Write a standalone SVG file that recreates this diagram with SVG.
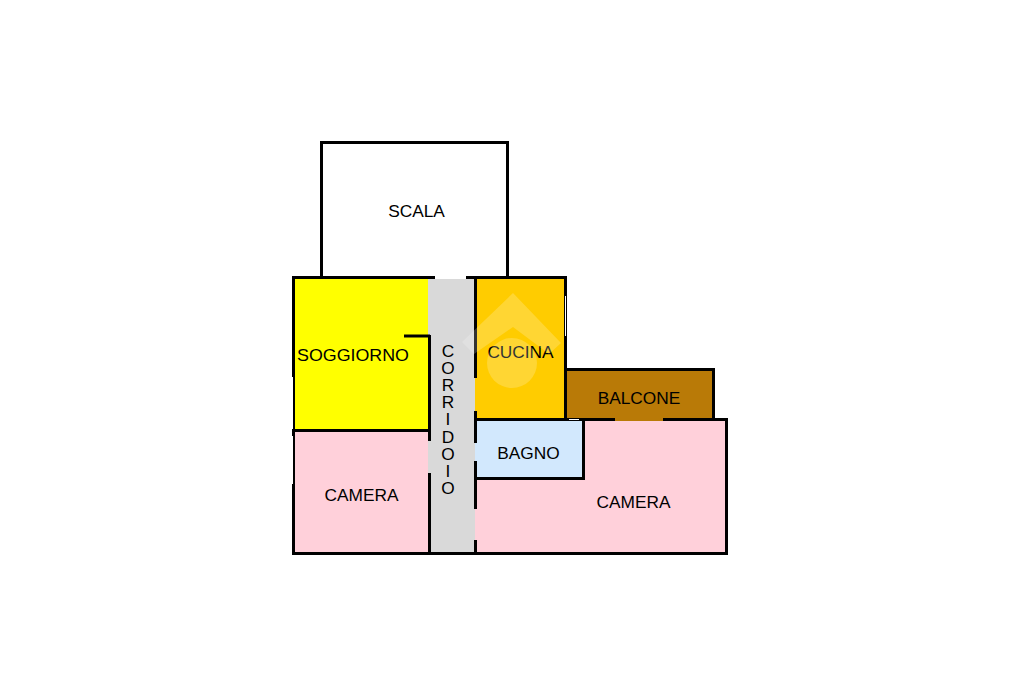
<svg xmlns="http://www.w3.org/2000/svg" width="1024" height="682" viewBox="0 0 1024 682">
<style>
text{font-family:"Liberation Sans",Arial,sans-serif;font-size:17.3px;fill:#000;text-anchor:middle}
.w{stroke:#000;stroke-width:3;fill:none}
.t{stroke:#fff;stroke-width:1;fill:none}
.v{writing-mode:vertical-rl;text-orientation:upright;letter-spacing:-2.9px;text-anchor:start}
</style>
<rect width="1024" height="682" fill="#fff"/>
<g id="rooms">
<rect id="soggiorno" x="294" y="278" width="134" height="153" fill="#ffff00"/>
<rect id="camera-left" x="294" y="431" width="134" height="122" fill="#ffd0da"/>
<rect id="corridoio" x="428" y="279" width="47" height="274" fill="#d9d9d9"/>
<rect id="cucina" x="475" y="278" width="90" height="141" fill="#ffcc00"/>
<rect id="camera-right" x="475" y="420" width="251" height="133" fill="#ffd0da"/>
<rect id="balcone" x="566" y="370" width="147" height="51" fill="#b97a07"/>
<rect id="bagno" x="475" y="420" width="109" height="58" fill="#d2e8fd"/>
</g>
<g id="walls">
<path class="w" d="M321.500 277V142.500H507.500V277"/>
<path class="w" d="M293.500 553.500V277.500H435M466 277.500H565.500V420"/>
<path class="w" d="M292 553.500H728M726.500 555V419.500H663M615 419.500H475"/>
<path class="w" d="M565 369.500H713.500V420"/>
<path class="w" d="M583.500 420V478.500H475"/>
<path class="w" d="M294 430.500H430"/>
<path class="w" d="M404 336H430"/>
<path class="w" d="M429.500 335V441M429.500 473V553"/>
<path class="w" d="M475.500 277V378M475.500 411V443M475.500 461V509M475.500 540V553"/>
<path class="t" d="M565.500 296V336M292.500 377V429M292.500 436V484M569 419.500H579"/>
</g>
<g id="labels">
<text x="416.500" y="217">SCALA</text>
<text x="353" y="361" textLength="112" lengthAdjust="spacingAndGlyphs">SOGGIORNO</text>
<text x="520.500" y="358">CUCINA</text>
<text x="639" y="404">BALCONE</text>
<text x="528.500" y="459">BAGNO</text>
<text x="361.500" y="501">CAMERA</text>
<text x="633.500" y="508">CAMERA</text>
<text class="v" x="448" y="341">CORRIDOIO</text>
</g>
<g id="watermark" fill="#fff" fill-opacity="0.2">
<path d="M513 293L561 343L549 354L513 327L474 354L462 342Z"/>
<circle cx="512" cy="363" r="25"/>
</g>
</svg>
